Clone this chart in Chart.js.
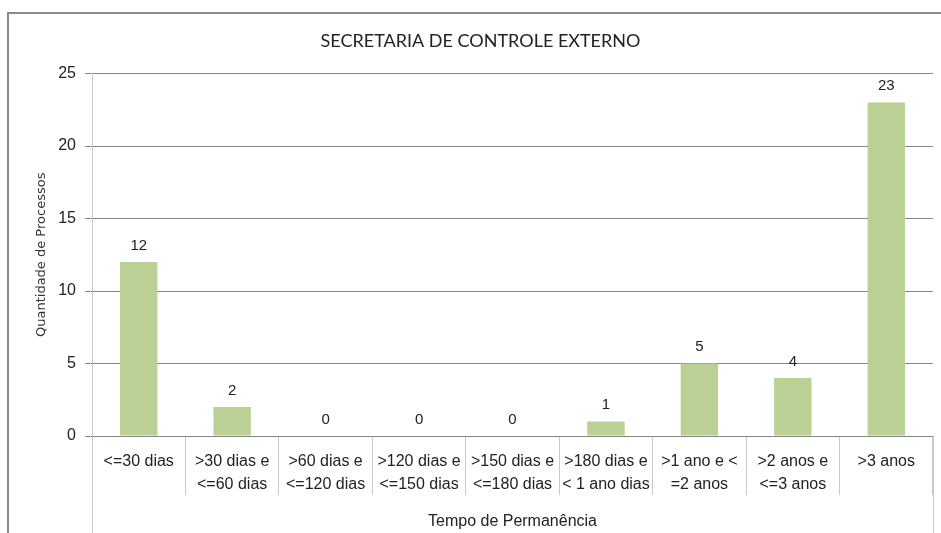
<!DOCTYPE html>
<html>
<head>
<meta charset="utf-8">
<script src="https://cdn.jsdelivr.net/npm/chart.js@4"></script>
<style>
  html, body { margin: 0; padding: 0; background: #fff; }
  #box { width: 941px; height: 533px; }
</style>
</head>
<body>
<div id="box"><canvas id="grafico"></canvas></div>
<script>
// Dados do gráfico
const categorias = [
    ['<=30 dias'],
    ['>30 dias e', '<=60 dias'],
    ['>60 dias e', '<=120 dias'],
    ['>120 dias e', '<=150 dias'],
    ['>150 dias e', '<=180 dias'],
    ['>180 dias e', '< 1 ano dias'],
    ['>1 ano e <', '=2 anos'],
    ['>2 anos e', '<=3 anos'],
    ['>3 anos']
];
const quantidades = [12, 2, 0, 0, 0, 1, 5, 4, 23];
const titulo = 'SECRETARIA DE CONTROLE EXTERNO';
const tituloY = 'Quantidade de Processos';
const tituloX = 'Tempo de Permanência';

const corLinha = '#868686';
const fonteTexto = 'Liberation Sans';

// Rótulos de valor sobre as barras + moldura e linhas da tabela de categorias
const extras = {
    id: 'extras',
    afterDatasetsDraw(chart) {
        const ctx = chart.ctx;
        const meta = chart.getDatasetMeta(0);
        ctx.save();
        ctx.fillStyle = '#222';
        ctx.font = '15px "' + fonteTexto + '"';
        ctx.textAlign = 'center';
        ctx.textBaseline = 'bottom';
        meta.data.forEach((barra, i) => {
            ctx.fillText(String(quantidades[i]), barra.x, barra.y - 9);
        });
        ctx.restore();
    },
    afterDraw(chart) {
        const ctx = chart.ctx;
        const area = chart.chartArea;
        ctx.save();
        // moldura do gráfico
        ctx.strokeStyle = '#8a8a8a';
        ctx.lineWidth = 2;
        ctx.beginPath();
        ctx.moveTo(8, 533);
        ctx.lineTo(8, 13);
        ctx.lineTo(941, 13);
        ctx.stroke();
        // bordas laterais da tabela de categorias
        ctx.strokeStyle = '#c8c8c8';
        ctx.lineWidth = 1;
        ctx.beginPath();
        ctx.moveTo(Math.round(area.left) + 0.5, area.bottom);
        ctx.lineTo(Math.round(area.left) + 0.5, 533);
        ctx.moveTo(Math.round(area.right) + 0.5, area.bottom);
        ctx.lineTo(Math.round(area.right) + 0.5, 533);
        ctx.stroke();
        ctx.restore();
    }
};

new Chart(document.getElementById('grafico'), {
    type: 'bar',
    data: {
        labels: categorias,
        datasets: [{
            data: quantidades,
            backgroundColor: '#bad094',
            borderWidth: 0,
            barPercentage: 0.4,
            categoryPercentage: 1
        }]
    },
    options: {
        responsive: true,
        maintainAspectRatio: false,
        animation: false,
        layout: { padding: { left: 28, right: 8, top: 0, bottom: 0 } },
        plugins: {
            legend: { display: false },
            tooltip: { enabled: false },
            title: {
                display: true,
                text: titulo,
                color: '#222',
                font: { family: 'Lato', size: 18, weight: 'normal' },
                padding: { top: 30, bottom: 22 }
            }
        },
        scales: {
            x: {
                offset: true,
                grid: {
                    offset: true,
                    drawOnChartArea: false,
                    tickLength: 59,
                    color: '#c8c8c8'
                },
                border: { color: corLinha },
                ticks: {
                    color: '#222',
                    font: { family: fonteTexto, size: 16, lineHeight: 1.38 },
                    maxRotation: 0,
                    autoSkip: false,
                    padding: -44
                },
                title: {
                    display: true,
                    text: tituloX,
                    color: '#222',
                    font: { family: fonteTexto, size: 16 },
                    padding: { top: 0, bottom: 2 }
                },
                afterFit(scale) { scale.height = 97; }
            },
            y: {
                min: 0,
                max: 25,
                ticks: {
                    stepSize: 5,
                    color: '#222',
                    font: { family: fonteTexto, size: 16 },
                    padding: 9
                },
                grid: {
                    color: corLinha,
                    tickLength: 7
                },
                border: { color: '#c8c8c8' },
                title: {
                    display: true,
                    text: tituloY,
                    color: '#333',
                    font: { family: 'DejaVu Sans', size: 13 },
                    padding: { top: 6, bottom: 0 }
                },
                afterFit(scale) { scale.width = 64; }
            }
        }
    },
    plugins: [extras]
});
</script>
</body>
</html>
